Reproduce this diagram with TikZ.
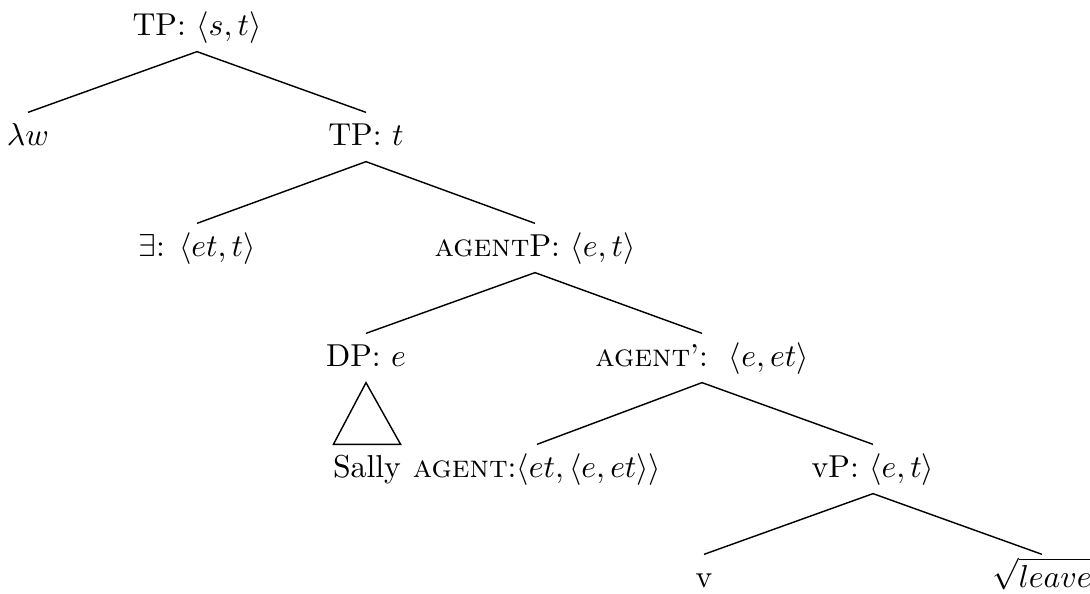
\documentclass[tikz,border=0pt]{standalone}
\usepackage{amsmath}
\usepackage{amssymb}
\usepackage{tikz}

\begin{document}
\begin{tikzpicture}[
  x=0.3155pt, y=-0.3155pt,
  lbl/.style={anchor=base, inner sep=0pt, text height=10.1pt, text depth=5.05pt},
  edge/.style={line width=0.45pt}
]
\useasboundingbox (0,0) rectangle (1090,594);

% labels, one row per level
\node[lbl] (tps) at (197,35) {TP: $\langle s,t\rangle$};
\node[lbl] (lam) at (28,145) {$\lambda w$};
\node[lbl] (tpt) at (366,145) {TP: $t$};
\node[lbl] (ex) at (197,256) {$\exists$: $\langle et,t\rangle$};
\node[lbl] (agp) at (535,256) {\textsc{agent}P: $\langle e,t\rangle$};
\node[lbl] (dp) at (366,366) {DP: $e$};
\node[lbl] (agb) at (702,366) {\textsc{agent}':\ \ $\langle e,et\rangle$};
\node[lbl] (sally) at (367,477) {Sally};
\node[lbl] (ag) at (537,477) {\textsc{agent}:$\langle et,\langle e,et\rangle\rangle$};
\node[lbl] (vp) at (873,477) {vP: $\langle e,t\rangle$};
\node[lbl] (v) at (704,587) {v};
\node[lbl] (leave) at (1042,587) {$\sqrt{leave}$};

% branches
\draw[edge] (tps.south) -- (lam.north);
\draw[edge] (tps.south) -- (tpt.north);
\draw[edge] (tpt.south) -- (ex.north);
\draw[edge] (tpt.south) -- (agp.north);
\draw[edge] (agp.south) -- (dp.north);
\draw[edge] (agp.south) -- (agb.north);
\draw[edge] (agb.south) -- (ag.north);
\draw[edge] (agb.south) -- (vp.north);
\draw[edge] (vp.south) -- (v.north);
\draw[edge] (vp.south) -- (leave.north);

% roof over Sally
\draw[edge] (dp.south) -- ([xshift=-10.6pt]sally.north) -- ([xshift=10.6pt]sally.north) -- cycle;
\end{tikzpicture}
\end{document}
